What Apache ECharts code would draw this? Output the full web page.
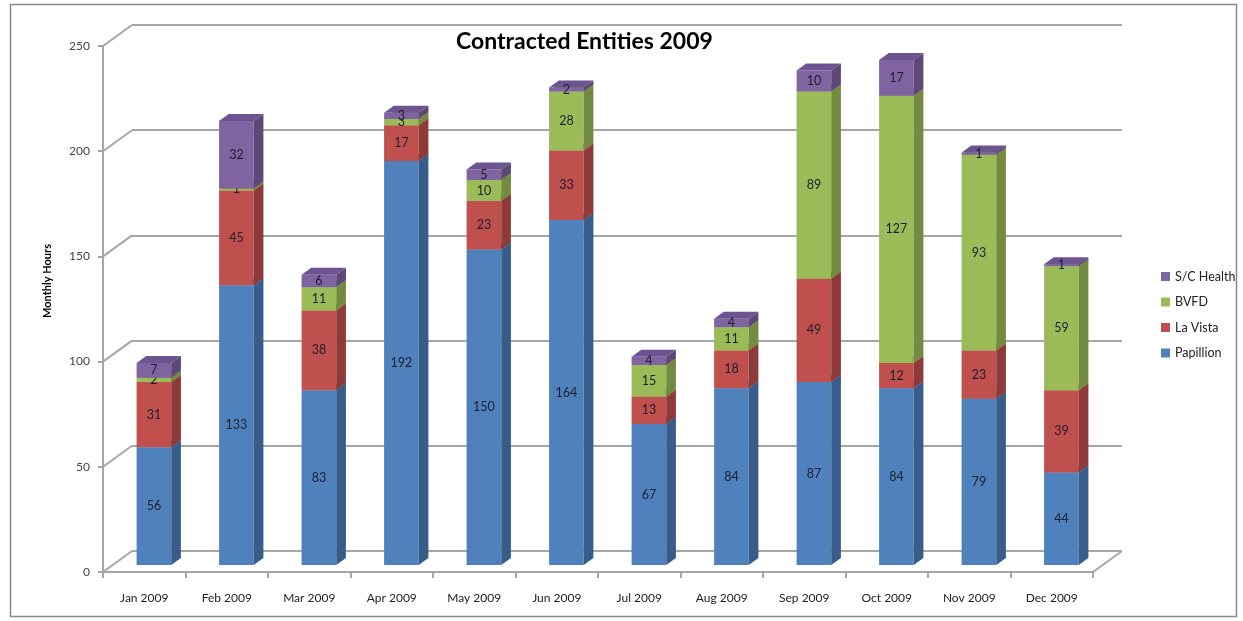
<!DOCTYPE html>
<html>
<head>
<meta charset="utf-8">
<script src="https://cdn.jsdelivr.net/npm/echarts@6/dist/echarts.min.js"></script>
<style>html,body{margin:0;padding:0;background:#fff;}#c{width:1243px;height:621px;}</style>
</head>
<body>
<div id="c"></div>
<script>
const categories = ['Jan 2009','Feb 2009','Mar 2009','Apr 2009','May 2009','Jun 2009','Jul 2009','Aug 2009','Sep 2009','Oct 2009','Nov 2009','Dec 2009'];
const papillion = [56,133,83,192,150,164,67,84,87,84,79,44];
const laVista   = [31,45,38,17,23,33,13,18,49,12,23,39];
const bvfd      = [2,1,11,3,10,28,15,11,89,127,93,59];
const scHealth  = [7,32,6,3,5,2,4,4,10,17,1,1];
const yTicks = [0,50,100,150,200,250];
const seriesNames = ['Papillion','La Vista','BVFD','S/C Health'];
const seriesValues = [papillion, laVista, bvfd, scHealth];
const frontColors = ['#4F81BD','#C0504D','#9BBB59','#8064A2'];
const sideColors  = ['#385D8A','#8E3A38','#728B40','#5D4878'];
const topColors   = ['#4672A8','#A94644','#86A24B','#6B5490'];

const FONT = 'Lato, "Open Sans", sans-serif';
const DX = 29, DY = -21; // wall depth offset

// stacked data
const cum = categories.map(() => 0);
const barSeries = seriesValues.map((vals, k) => {
  const data = vals.map((v, i) => { const b = cum[i]; cum[i] += v; return [i, b, b + v, v]; });
  return {
    name: seriesNames[k], type: 'custom', xAxisIndex: 0, yAxisIndex: 0, z: 5 + k, clip: false,
    itemStyle: { color: frontColors[k] },
    encode: { x: 0, y: 2 },
    data,
    renderItem: function (params, api) {
      const i = api.value(0), b = api.value(1), t = api.value(2), v = api.value(3);
      const p0 = api.coord([i, b]), p1 = api.coord([i, t]);
      const band = api.size([1, 0])[0];
      const w = band * 0.42;
      const fx = DX / 3, fy = DY / 3, dx = DX / 3, dy = DY / 3;
      const x0 = p0[0] - w / 2 + fx, x1 = x0 + w;
      const yb = p0[1] + fy, yt = p1[1] + fy;
      return { type: 'group', children: [
        { type: 'rect', shape: { x: x0, y: yt, width: w, height: yb - yt }, style: { fill: frontColors[k] } },
        { type: 'polygon', shape: { points: [[x1, yt], [x1 + dx, yt + dy], [x1 + dx, yb + dy], [x1, yb]] }, style: { fill: sideColors[k] } },
        { type: 'polygon', shape: { points: [[x0, yt], [x0 + dx, yt + dy], [x1 + dx, yt + dy], [x1, yt]] }, style: { fill: topColors[k] } },
        { type: 'text', x: x0 + w / 2, y: (yt + yb) / 2, style: { text: String(v), fill: '#1e1e2e', font: '12.5px ' + FONT, align: 'center', verticalAlign: 'middle' } }
      ]};
    }
  };
});

const wallSeries = {
  name: 'walls', type: 'custom', xAxisIndex: 0, yAxisIndex: 0, z: 1, clip: false, silent: true,
  data: yTicks.map(v => [0, v]),
  renderItem: function (params, api) {
    const v = api.value(1);
    const y = api.coord([0, v])[1];
    const cs = params.coordSys;
    const st = { stroke: '#a6a6a6', lineWidth: 2 };
    const ch = [{ type: 'line', shape: { x1: cs.x, y1: y, x2: cs.x + DX, y2: y + DY }, style: st }];
    if (v === 0) ch.push({ type: 'line', shape: { x1: cs.x + cs.width, y1: y, x2: cs.x + cs.width + DX, y2: y + DY }, style: st });
    return { type: 'group', children: ch };
  }
};

const chart = echarts.init(document.getElementById('c'), null, { renderer: 'canvas' });
chart.setOption({
  animation: false,
  backgroundColor: '#fff',
  title: { text: 'Contracted Entities 2009', left: 451, top: 25, textStyle: { fontFamily: FONT, fontWeight: 'bold', fontSize: 23, color: '#000' } },
  legend: {
    data: ['S/C Health', 'BVFD', 'La Vista', 'Papillion'],
    orient: 'vertical', left: 1156, top: 265, itemWidth: 9, itemHeight: 9, itemGap: 12.5,
    icon: 'rect', textStyle: { fontFamily: FONT, fontSize: 12.5, color: '#222' }
  },
  grid: [
    { left: 103, right: 150, top: 46, bottom: 49 },
    { left: 132, right: 121, top: 25, bottom: 70 }
  ],
  xAxis: [
    { type: 'category', gridIndex: 0, data: categories, boundaryGap: true,
      axisLine: { lineStyle: { color: '#a6a6a6', width: 2 } },
      axisTick: { show: true, length: 6, lineStyle: { color: '#a6a6a6', width: 2 } },
      axisLabel: { margin: 20, fontFamily: FONT, fontSize: 12, color: '#222' } },
    { type: 'category', gridIndex: 1, data: categories, show: false }
  ],
  yAxis: [
    { type: 'value', gridIndex: 0, min: 0, max: 250, interval: 50,
      axisLine: { show: true, lineStyle: { color: '#a6a6a6', width: 2 } },
      axisTick: { show: true, length: 5, lineStyle: { color: '#a6a6a6', width: 2 } },
      splitLine: { show: false },
      axisLabel: { margin: 13, fontFamily: FONT, fontSize: 12, color: '#444' } },
    { type: 'value', gridIndex: 1, min: 0, max: 250, interval: 50,
      axisLine: { show: false }, axisTick: { show: false }, axisLabel: { show: false },
      splitLine: { show: true, lineStyle: { color: '#a6a6a6', width: 2 } } }
  ],
  graphic: [
    { type: 'rect', shape: { x: 10.5, y: 4.5, width: 1226, height: 612 }, style: { fill: null, stroke: '#8a8a8a', lineWidth: 1.5 }, silent: true, z: -1 },
    { type: 'text', x: 47, y: 281, rotation: Math.PI / 2, style: { text: 'Monthly Hours', font: 'bold 11px ' + FONT, fill: '#000', align: 'center', verticalAlign: 'middle' } }
  ],
  series: [wallSeries].concat(barSeries)
});
</script>
</body>
</html>
